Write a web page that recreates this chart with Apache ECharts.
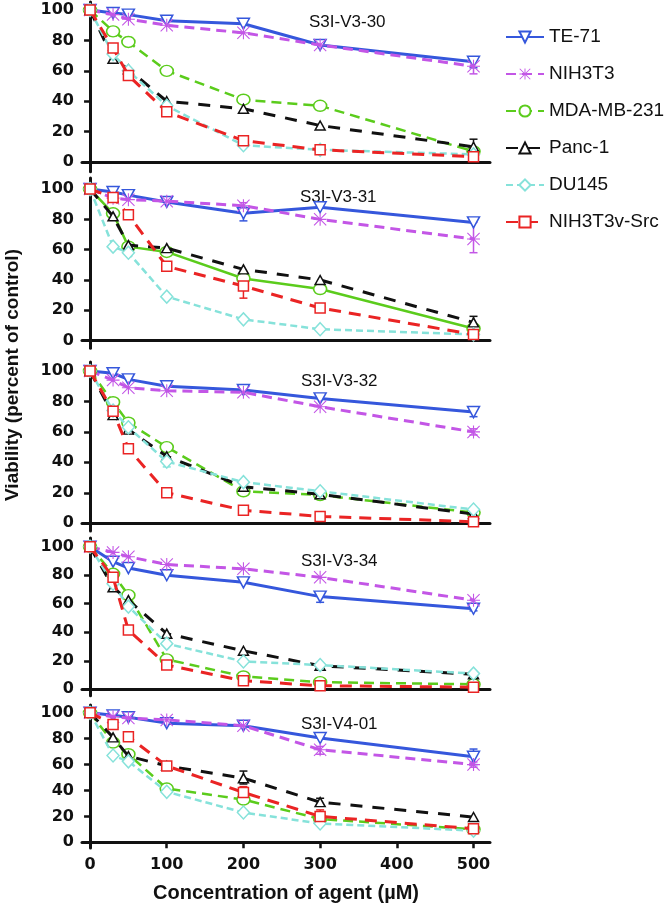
<!DOCTYPE html>
<html><head><meta charset="utf-8">
<script src="https://cdn.jsdelivr.net/npm/echarts@6/dist/echarts.min.js"></script>
<style>html,body{margin:0;padding:0;background:#fff}#c{width:666px;height:904px}</style>
</head><body><div id="c"></div>
<script>
// ---- data ----
const xValues = [0, 30, 50, 100, 200, 300, 500];
const xTicks = [0, 100, 200, 300, 400, 500];
const yTicks = [0, 20, 40, 60, 80, 100];
const seriesNames = ['TE-71', 'NIH3T3', 'MDA-MB-231', 'Panc-1', 'DU145', 'NIH3T3v-Src'];
const panelTitles = ['S3I-V3-30', 'S3I-V3-31', 'S3I-V3-32', 'S3I-V3-34', 'S3I-V4-01'];
// each panel: rows in seriesNames order, values at xValues
const panelV330 = [
  [100, 98, 97, 93, 91, 77, 66],
  [100, 97, 94, 90, 85, 77, 63],
  [100, 86, 79, 60, 41, 37, 7],
  [100, 68, 61, 40, 35, 24, 10],
  [100, 71, 60, 37, 11, 8, 5],
  [100, 75, 57, 33, 14, 8, 3.5]
];
const panelV331 = [
  [100, 98, 96, 91.5, 84, 88, 78],
  [100, 94, 93, 92, 89, 80, 67],
  [100, 84, 62, 58.5, 41, 34, 8],
  [100, 82, 63, 61, 47, 40, 12],
  [100, 62, 58, 29, 14, 7.5, 4],
  [100, 94.5, 83, 49, 36, 21.5, 4]
];
const panelV332 = [
  [100, 98.5, 94.5, 90, 87.5, 82, 73],
  [100, 94, 89, 87, 86, 76.5, 60],
  [100, 79.5, 66, 50, 21, 18.5, 7],
  [100, 71, 61.5, 44, 24, 19, 6],
  [100, 74, 63, 40.5, 27, 21, 9],
  [100, 73.5, 49, 20, 8.5, 4.5, 1]
];
const panelV334 = [
  [100, 89.5, 85, 80, 75, 65, 56.5],
  [100, 96, 93, 87.5, 84.5, 78.5, 62.5],
  [100, 81, 66, 21, 9, 5, 3.5],
  [100, 71.5, 62.5, 39, 27, 16.5, 10.5],
  [100, 74, 58, 32, 19.5, 17, 11],
  [100, 78.5, 41.5, 17, 6, 2.5, 1.5]
];
const panelV401 = [
  [100, 98, 96.5, 92, 90, 80.5, 66],
  [100, 97, 96, 94.5, 90, 71.5, 60],
  [100, 77, 68, 41.5, 33, 18, 10],
  [100, 81, 66.5, 59, 49.5, 31, 19.5],
  [100, 67, 62.5, 39, 23, 14.5, 9],
  [100, 91, 81.5, 59, 38.5, 20, 10.5]
];
const panels = [panelV330, panelV331, panelV332, panelV334, panelV401];
// error bars: [panel, seriesIndex, x, low, high]
const errorBars = [
  [0, 0, 500, 62, 69], [0, 1, 500, 58, 67], [0, 3, 500, 6, 15], [0, 2, 30, 83, 89], [0, 2, 50, 76, 82],
  [1, 0, 200, 79, 88], [1, 1, 500, 58, 78], [1, 5, 200, 28, 44], [1, 3, 500, 9, 16], [1, 1, 200, 86, 91],
  [2, 0, 500, 70, 75], [2, 1, 500, 58, 62], [2, 4, 100, 37, 43], [2, 2, 500, 5, 9],
  [3, 0, 300, 61, 68], [3, 0, 500, 55, 58],
  [4, 3, 200, 45, 55], [4, 3, 300, 28, 34], [4, 5, 200, 35, 43], [4, 5, 300, 15, 25],
  [4, 0, 500, 60, 72], [4, 1, 300, 68, 74], [4, 1, 500, 58, 62], [4, 3, 100, 57, 61]
];

// ---- layout / style ----
const layout = [
  {top: 2, bottom: 171.7, ymin: -6.4, ymax: 105.3, tx: 309, ty: 22},
  {top: 178, bottom: 348.3, ymin: -5.1, ymax: 107.3, tx: 300, ty: 197},
  {top: 362, bottom: 531, ymin: -5.1, ymax: 105.9, tx: 301, ty: 381},
  {top: 538, bottom: 695.7, ymin: -4.5, ymax: 106.1, tx: 301, ty: 561},
  {top: 705, bottom: 856.7, ymin: -4.4, ymax: 106, tx: 301, ty: 724}
];
const colors = ['#3557dc', '#c356e6', '#5bcc1c', '#111111', '#86e2da', '#ea2424'];
const asterisk = 'path://M0 11H24V13H0Z M11 0H13V24H11Z M1.4 0L24 22.6L22.6 24L0 1.4Z M22.6 0L24 1.4L1.4 24L0 22.6Z';
const styles = [
  {symbol: 'triangle', rotate: 180, size: [12, 11], width: 3, type: 'solid', fill: '#fff'},
  {symbol: asterisk, rotate: 0, size: 13, width: 3, type: [10, 6], fill: colors[1]},
  {symbol: 'circle', rotate: 0, size: [13, 11], width: 2.5, type: [10, 6], fill: '#fff'},
  {symbol: 'triangle', rotate: 0, size: [10, 9], width: 3, type: [12, 10], fill: '#fff'},
  {symbol: 'diamond', rotate: 0, size: [12, 13], width: 2.5, type: [7, 4], fill: '#fff'},
  {symbol: 'rect', rotate: 0, size: 10, width: 3, type: [12, 8], fill: '#fff'}
];
const tickFont = {fontFamily: 'DejaVu Sans', fontWeight: 'bold', fontSize: 16, color: '#111'};

const grid = [], xAxis = [], yAxis = [], series = [], graphic = [];
layout.forEach((L, p) => {
  grid.push({left: 82, width: 408, top: L.top, height: L.bottom - L.top});
  const last = p === layout.length - 1;
  xAxis.push({
    type: 'value', gridIndex: p, min: -10.5, max: 521.5,
    axisLine: {show: true, lineStyle: {color: '#111', width: 3}},
    axisTick: {show: last, length: 6, lineStyle: {width: 2.5, color: '#111'}, customValues: xTicks},
    axisLabel: Object.assign({show: last, margin: 9, customValues: xTicks}, tickFont),
    splitLine: {show: false},
    name: last ? 'Concentration of agent (\u00b5M)' : '',
    nameLocation: 'middle', nameGap: 35,
    nameTextStyle: {fontFamily: 'Liberation Sans', fontWeight: 'bold', fontSize: 20, color: '#111'}
  });
  yAxis.push({
    type: 'value', gridIndex: p, min: L.ymin, max: L.ymax,
    axisLine: {show: true, lineStyle: {color: '#111', width: 3}},
    axisTick: {show: true, length: 6, lineStyle: {width: 2.5, color: '#111'}, customValues: yTicks},
    axisLabel: Object.assign({margin: 8, customValues: yTicks}, tickFont),
    splitLine: {show: false}
  });
  panels[p].forEach((vals, s) => {
    const st = styles[s];
    let type = st.type;
    if (p === 1 && s === 2) type = 'solid';
    series.push({
      type: 'line', name: seriesNames[s], xAxisIndex: p, yAxisIndex: p,
      data: xValues.map((x, i) => [x, vals[i]]),
      symbol: st.symbol, symbolRotate: st.rotate, symbolSize: st.size, showSymbol: true,
      lineStyle: {color: colors[s], width: st.width, type: type},
      itemStyle: {color: st.fill, borderColor: colors[s], borderWidth: s === 1 ? 0 : 1.5},
      z: 3 + s, animation: false
    });
  });
  series.push({
    type: 'custom', name: 'err' + p, xAxisIndex: p, yAxisIndex: p, z: 2,
    data: errorBars.filter(e => e[0] === p).map(e => [e[2], e[3], e[4], e[1]]),
    renderItem: function (params, api) {
      const x = api.value(0), lo = api.value(1), hi = api.value(2), c = colors[api.value(3)];
      const a = api.coord([x, lo]), b = api.coord([x, hi]);
      const w = 4, st = {stroke: c, lineWidth: 1.5};
      return {type: 'group', children: [
        {type: 'line', shape: {x1: a[0], y1: a[1], x2: b[0], y2: b[1]}, style: st},
        {type: 'line', shape: {x1: a[0] - w, y1: a[1], x2: a[0] + w, y2: a[1]}, style: st},
        {type: 'line', shape: {x1: b[0] - w, y1: b[1], x2: b[0] + w, y2: b[1]}, style: st}
      ]};
    },
    animation: false
  });
  graphic.push({type: 'text', x: L.tx, y: L.ty,
    style: {text: panelTitles[p], fill: '#111', font: '17px "Liberation Sans"', align: 'left', verticalAlign: 'middle'}});
});
graphic.push({type: 'text', x: 13, y: 375, rotation: Math.PI / 2,
  style: {text: 'Viability (percent of control)', fill: '#111', font: 'bold 19px "Liberation Sans"', align: 'center', verticalAlign: 'middle'}});

const chart = echarts.init(document.getElementById('c'), null, {renderer: 'canvas'});
chart.setOption({
  animation: false,
  backgroundColor: '#fff',
  grid, xAxis, yAxis, series, graphic,
  legend: {
    data: seriesNames, orient: 'vertical', left: 500, top: 22,
    itemWidth: 38, itemHeight: 14, itemGap: 17,
    textStyle: {fontFamily: 'Liberation Sans', fontSize: 19, lineHeight: 20, color: '#111'}
  }
});
</script></body></html>
